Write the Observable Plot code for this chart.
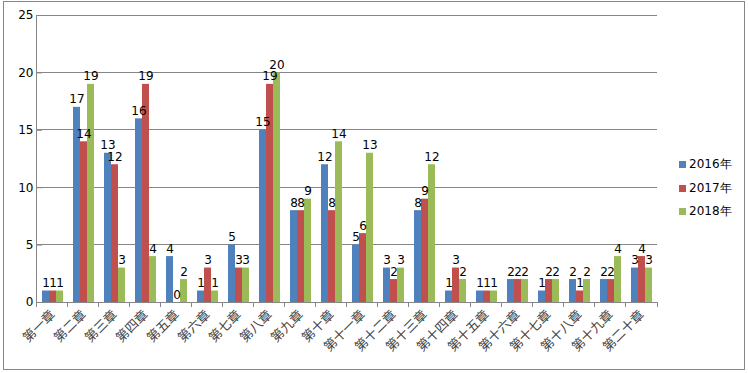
<!DOCTYPE html>
<html><head><meta charset="utf-8">
<script src="https://cdn.jsdelivr.net/npm/d3@7"></script>
<script src="https://cdn.jsdelivr.net/npm/@observablehq/plot@0.6"></script>
<style>
body{margin:0;background:#fff;}
#wrap{position:relative;width:748px;height:373px;overflow:hidden;}
#border{position:absolute;left:3px;top:1px;width:740px;height:367px;border:1px solid #868686;}
#chart{position:absolute;left:0;top:0;}
#legend{position:absolute;left:679px;top:153px;font-family:"DejaVu Sans",sans-serif;font-size:12px;color:#000;}
#legend .row{display:flex;align-items:center;height:23.5px;}
#legend .sw{width:7px;height:7px;margin-right:3px;}
</style></head><body>
<div id="wrap"><div id="border"></div><div id="chart"></div><div id="legend"></div></div>
<script>
const chapters = ["第一章","第二章","第三章","第四章","第五章","第六章","第七章","第八章","第九章","第十章","第十一章","第十二章","第十三章","第十四章","第十五章","第十六章","第十七章","第十八章","第十九章","第二十章"];
const years = ["2016年","2017年","2018年"];
const v2016 = [1,17,13,16,4,1,5,15,8,12,5,3,8,1,1,2,1,2,2,3];
const v2017 = [1,14,12,19,0,3,3,19,8,8,6,2,9,3,1,2,2,1,2,4];
const v2018 = [1,19,3,4,2,1,3,20,9,14,13,3,12,2,1,2,2,2,4,3];
const yTicks = [0,5,10,15,20,25];
const colors = ["#4F81BD","#C0504D","#9BBB59"];

const series = [v2016, v2017, v2018];
const data = chapters.flatMap((c, i) => years.map((y, j) => ({chapter: c, year: y, value: series[j][i]})));

const chart = Plot.plot({
  width: 748, height: 373,
  marginLeft: 36, marginRight: 91, marginTop: 15, marginBottom: 71,
  style: {fontFamily: "DejaVu Sans", fontSize: "11px", background: "transparent", overflow: "visible", color: "#000"},
  fx: {domain: chapters, paddingInner: 0.33, paddingOuter: 0.165, label: null, axis: null},
  x: {domain: years, padding: 0, axis: null},
  y: {domain: [0, 25], label: null},
  color: {domain: years, range: colors},
  marks: [
    Plot.axisY({ticks: yTicks, tickSize: 5, tickPadding: 4, label: null, stroke: "#868686", fill: "#000", fontSize: 12}),
    Plot.axisFx({anchor: "bottom", tickRotate: -45, textAnchor: "end", tickSize: 0, tickPadding: 10, label: null, fontSize: 13, fontFamily: "Noto Sans CJK SC", fill: "#444444"}),
    Plot.barY(data, {fx: "chapter", x: "year", y: "value", fill: "year"}),
    Plot.text(data, {fx: "chapter", x: "year", y: "value", text: "value", lineAnchor: "bottom", dy: -4, fill: "#000", fontSize: 12})
  ]
});
document.getElementById("chart").appendChild(chart);

// continuous gridlines, axis lines and category boundary ticks via the plot's scales
const ys = chart.scale("y");
const fxs = chart.scale("fx");
const [r0, r1] = fxs.range;
const n = chapters.length;
const g = d3.select(chart).insert("g", ":first-child").attr("stroke", "#868686").attr("shape-rendering", "crispEdges");
yTicks.forEach(t => {
  g.append("line").attr("x1", r0).attr("x2", r1).attr("y1", ys.apply(t)).attr("y2", ys.apply(t));
});
g.append("line").attr("x1", r0).attr("x2", r0).attr("y1", ys.apply(25)).attr("y2", ys.apply(0));
d3.range(n + 1).forEach(i => {
  const x = r0 + i * (r1 - r0) / n;
  g.append("line").attr("x1", x).attr("x2", x).attr("y1", ys.apply(0)).attr("y2", ys.apply(0) + 5);
});

// legend
const lg = d3.select("#legend");
years.forEach((y, j) => {
  const row = lg.append("div").attr("class", "row");
  row.append("div").attr("class", "sw").style("background", colors[j]);
  row.append("span").text(y);
});
</script>
</body></html>
